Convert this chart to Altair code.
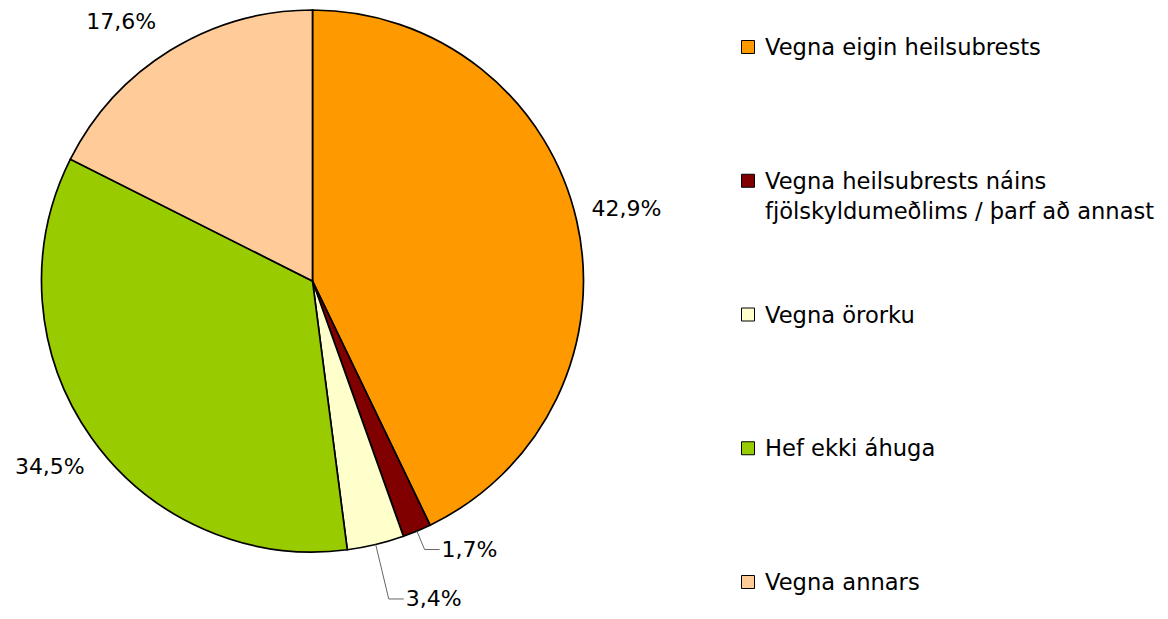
import altair as alt
import pandas as pd

categories = [
    "Vegna eigin heilsubrests",
    "Vegna heilsubrests náins\nfjölskyldumeðlims / þarf að annast",
    "Vegna örorku",
    "Hef ekki áhuga",
    "Vegna annars",
]
values = [42.9, 1.7, 3.4, 34.5, 17.6]
colors = ["#FF9900", "#800000", "#FFFFCC", "#99CC00", "#FFCC99"]

df = pd.DataFrame({"cat": categories, "value": values, "idx": list(range(len(categories)))})

# layout (pixels in the view)
CX, CY, R = 304.5, 273, 271
LABEL_R = 322
YMIN = 14
FONT = "DejaVu Sans"
FS = 22
LEG_FS = 22.6
LEG_X, LEG_Y0, LEG_STEP = 740, 39, 133.75

base = alt.Chart(df)

pie = base.mark_arc(outerRadius=R, stroke="black", strokeWidth=1.7).encode(
    x=alt.value(CX),
    y=alt.value(CY),
    theta=alt.Theta("value:Q", stack=True),
    order=alt.Order("idx:Q"),
    color=alt.Color("cat:N", scale=alt.Scale(domain=categories, range=colors), legend=None),
)

calc = base.transform_window(
    cum="sum(value)", sort=[alt.SortField("idx")], frame=[None, 0]
).transform_joinaggregate(total="sum(value)").transform_calculate(
    mid="(datum.cum - datum.value / 2) / datum.total * 2 * PI",
    label="replace(format(datum.value, '.1f'), '.', ',') + '%'",
)

big = calc.transform_filter("datum.value >= 5").transform_calculate(
    ly_raw=f"{CY} - {LABEL_R} * cos(datum.mid)",
).transform_calculate(
    ly=f"max(datum.ly_raw, {YMIN})",
    lx=f"datum.ly_raw < {YMIN} ? {CX} + (sin(datum.mid) < 0 ? -1 : 1) * sqrt({LABEL_R}*{LABEL_R} - ({CY}-{YMIN})*({CY}-{YMIN})) : {CX} + {LABEL_R} * sin(datum.mid)",
)

big_labels = big.mark_text(font=FONT, fontSize=FS, color="#000", align="center", baseline="middle").encode(
    x=alt.X("lx:Q", scale=None), y=alt.Y("ly:Q", scale=None), text="label:N"
)

small = calc.transform_filter("datum.value < 5").transform_calculate(
    lr="datum.idx == 1 ? 291 : 327",
).transform_calculate(
    ax=f"{CX} + {R} * sin(datum.mid)",
    ay=f"{CY} - {R} * cos(datum.mid)",
    bx=f"{CX} + datum.lr * sin(datum.mid)",
    by=f"{CY} - datum.lr * cos(datum.mid)",
).transform_calculate(
    cx2="datum.bx + 15",
    tx="datum.bx + 17",
)

rule1 = small.mark_rule(color="#666666", strokeWidth=1).encode(
    x=alt.X("ax:Q", scale=None), y=alt.Y("ay:Q", scale=None), x2="bx:Q", y2="by:Q"
)
rule2 = small.mark_rule(color="#666666", strokeWidth=1).encode(
    x=alt.X("bx:Q", scale=None), y=alt.Y("by:Q", scale=None), x2="cx2:Q", y2="by:Q"
)
small_labels = small.mark_text(font=FONT, fontSize=FS, color="#000", align="left", baseline="middle").encode(
    x=alt.X("tx:Q", scale=None), y=alt.Y("by:Q", scale=None), text="label:N"
)

leg = base.transform_calculate(ly=f"{LEG_Y0} + datum.idx * {LEG_STEP}")
leg_sq = leg.mark_square(size=169, opacity=1, stroke="black", strokeWidth=1).encode(
    x=alt.value(LEG_X),
    y=alt.Y("ly:Q", scale=None),
    color=alt.Color("cat:N", scale=alt.Scale(domain=categories, range=colors), legend=None),
)
leg_txt = leg.mark_text(
    font=FONT, fontSize=LEG_FS, color="#000", align="left", baseline="alphabetic",
    lineBreak="\n", lineHeight=30, dy=8,
).encode(
    x=alt.value(LEG_X + 17),
    y=alt.Y("ly:Q", scale=None),
    text="cat:N",
)

chart = alt.layer(pie, rule1, rule2, big_labels, small_labels, leg_sq, leg_txt).properties(
    width=1152, height=603, autosize=alt.AutoSizeParams(type="none"), padding=0
).configure_view(stroke=None)

chart.save("out.html", embed_options={"renderer": "svg", "actions": False})
